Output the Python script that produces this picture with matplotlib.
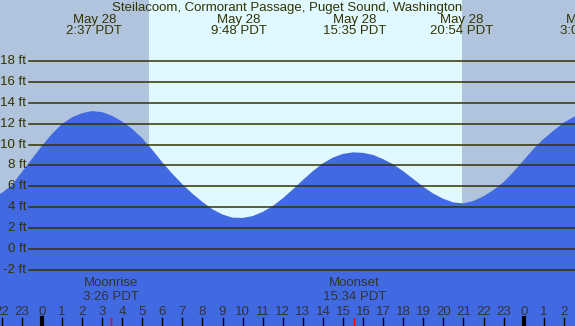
import matplotlib
matplotlib.use("Agg")
import matplotlib.pyplot as plt

plt.rcParams['font.family'] = ['Liberation Sans', 'DejaVu Sans']

# tide heights (ft), every half hour (hours from midnight May 28)
tide_hours = [-2.5, -2.0, -1.5, -1.0, -0.5, 0.0, 0.5, 1.0, 1.5, 2.0,
              2.5, 3.0, 3.5, 4.0, 4.5, 5.0, 5.5, 6.0, 6.5, 7.0,
              7.5, 8.0, 8.5, 9.0, 9.5, 10.0, 10.5, 11.0, 11.5, 12.0,
              12.5, 13.0, 13.5, 14.0, 14.5, 15.0, 15.5, 16.0, 16.5, 17.0,
              17.5, 18.0, 18.5, 19.0, 19.5, 20.0, 20.5, 21.0, 21.5, 22.0,
              22.5, 23.0, 23.5, 24.0, 24.5, 25.0, 25.5, 26.0, 26.5, 27.0]
tide_ft = [5.05, 5.35, 6.1, 7.35, 8.6, 9.85, 11.0, 11.95, 12.6, 13.0,
           13.2, 13.1, 12.75, 12.2, 11.5, 10.6, 9.5, 8.3, 7.2, 6.2,
           5.3, 4.5, 3.8, 3.3, 3.0, 2.97, 3.15, 3.55, 4.1, 4.85,
           5.7, 6.6, 7.45, 8.2, 8.75, 9.1, 9.25, 9.2, 9.0, 8.6,
           8.1, 7.45, 6.7, 5.95, 5.3, 4.8, 4.45, 4.37, 4.6, 5.05,
           5.65, 6.4, 7.4, 8.5, 9.6, 10.55, 11.35, 12.1, 12.65, 13.0]

# high / low tide labels
ext_hours = [2.617, 9.8, 15.583, 20.9, 27.2]
ext_dates = ['May 28', 'May 28', 'May 28', 'May 28', 'May 29']
ext_times = ['2:37 PDT', '9:48 PDT', '15:35 PDT', '20:54 PDT', '3:08 PDT']

sunrise = 5.34
sunset = 20.93

moon_hours = [3.433, 15.567]
moon_names = ['Moonrise', 'Moonset']
moon_times = ['3:26 PDT', '15:34 PDT']

grid_levels = [-2, 0, 2, 4, 6, 8, 10, 12, 14, 16, 18]
hour_ticks = list(range(-2, 27))

W, H = 575, 326
fig = plt.figure(figsize=(W / 100, H / 100), dpi=100)
ax = fig.add_axes([0, 0, 1, 1])
ax.set_xlim(-2.082, 26.554)
ax.set_ylim(-7.37, 23.83)
ax.axis('off')

night = '#b0c4de'
day = '#e0f8ff'
water = '#4169e1'
ink = '#333300'

ax.axvspan(-5, sunrise, color=night, lw=0, zorder=0)
ax.axvspan(sunrise, sunset, color=day, lw=0, zorder=0)
ax.axvspan(sunset, 30, color=night, lw=0, zorder=0)

ax.fill_between(tide_hours, tide_ft, -20, color=water, lw=0, zorder=1)

ytr = ax.get_yaxis_transform()
xtr = ax.get_xaxis_transform()

fs = 9.5

for lv in grid_levels:
    ax.plot([29 / W, 1], [lv, lv], color=ink, lw=1.1, transform=ytr, zorder=2)
    ax.text(26 / W, lv, f'{lv} ft', transform=ytr, ha='right', va='center',
            fontsize=fs, color=ink, zorder=3)

ax.text(0.5, 1 - 7.5 / H, 'Steilacoom, Cormorant Passage, Puget Sound, Washington',
        transform=ax.transAxes, ha='center', va='center', fontsize=fs, color=ink)
for h, d, t in zip(ext_hours, ext_dates, ext_times):
    ax.text(h, 1 - 19.5 / H, d, transform=xtr, ha='center', va='center', fontsize=fs, color=ink)
    ax.text(h, 1 - 31.5 / H, t, transform=xtr, ha='center', va='center', fontsize=fs, color=ink)

for h, n, t in zip(moon_hours, moon_names, moon_times):
    ax.text(h, 1 - 283 / H, n, transform=xtr, ha='center', va='center', fontsize=fs, color='#333333')
    ax.text(h, 1 - 297 / H, t, transform=xtr, ha='center', va='center', fontsize=fs, color='#333333')
    ax.plot([h, h], [0, 8 / H], color='red', lw=1, transform=xtr, zorder=3)

for h in hour_ticks:
    ax.text(h, 1 - 312 / H, str(h % 24), transform=xtr, ha='center', va='center',
            fontsize=fs, color='#333333')
    lw = 3 if h % 24 == 0 else 1
    ax.plot([h, h], [0, 8 / H], color='black', lw=lw, transform=xtr, zorder=3)

fig.savefig('out.png', dpi=100)
